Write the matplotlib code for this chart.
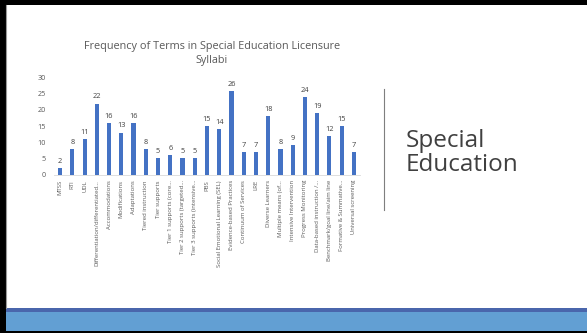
import matplotlib
matplotlib.use("Agg")
import matplotlib.pyplot as plt
from matplotlib.patches import Rectangle
from matplotlib.lines import Line2D

# term counts
terms = [
    "MTSS", "RTI", "UDL", "Differentiation/differentiated\u2026",
    "Accommodations", "Modifications", "Adaptations", "Tiered instruction",
    "Tier supports", "Tier 1 supports (core\u2026", "Tier 2 supports (targeted\u2026",
    "Tier 3 supports (intensive\u2026", "PBS", "Social Emotional Learning (SEL)",
    "Evidence-based Practices", "Continuum of Services", "LRE",
    "Diverse Learners", "Multiple means (of\u2026", "Intensive Intervention",
    "Progress Monitoring", "Data-based instruction /\u2026",
    "Benchmark/goal line/aim line", "Formative & Summative\u2026",
    "Universal screening",
]
counts = [2, 8, 11, 22, 16, 13, 16, 8, 5, 6, 5, 5, 15, 14, 26, 7, 7, 18, 8, 9,
          24, 19, 12, 15, 7]
y_ticks = [0, 5, 10, 15, 20, 25, 30]

W, H = 587, 333
fig = plt.figure(figsize=(W / 100, H / 100), dpi=100)
fig.patch.set_facecolor("white")

def px(x, y, w, h):
    # pixel box (top-left origin) -> figure fraction
    return (x / W, 1 - (y + h) / H, w / W, h / H)

# slide frame and footer band
for (x, y, w, h, c) in [(0, 0, W, 4.5, "black"), (0, 0, 5.5, H, "black"),
                        (0, 331, W, 2, "black"),
                        (5.5, 307.7, W, 4, "#4a66ac"),
                        (5.5, 311.7, W, 19.3, "#629fd3")]:
    fx, fy, fw, fh = px(x, y, w, h)
    fig.patches.append(Rectangle((fx, fy), fw, fh, transform=fig.transFigure,
                                 facecolor=c, edgecolor="none", zorder=0))
fig.lines.append(Line2D([5.8 / W, 5.8 / W], [1 - 4.5 / H, 1 - 307.7 / H],
                        transform=fig.transFigure, color="#9a9a9a", lw=0.8))

font = "Open Sans"
ax = fig.add_axes([54 / W, 1 - 174.5 / H, 306 / W, (174.5 - 77.7) / H])
x = list(range(len(terms)))
bars = ax.bar(x, counts, width=0.34, color="#4472c4")
ax.bar_label(bars, labels=[str(c) for c in counts], padding=2.2, fontsize=5.3,
             color="#404040", family=font)
ax.set_xlim(-0.5, len(terms) - 0.5)
ax.set_ylim(0, 30)
ax.set_yticks(y_ticks)
ax.set_yticklabels([str(t) for t in y_ticks], fontsize=5.2, color="#595959",
                   family=font)
ax.set_xticks(x)
ax.set_xticklabels(terms, rotation=90, fontsize=4.3, color="#595959",
                   family=font, va="top", ha="center")
ax.tick_params(axis="both", length=0, pad=4)
ax.tick_params(axis="y", pad=6)
for s in ["top", "right", "left"]:
    ax.spines[s].set_visible(False)
ax.spines["bottom"].set_color("#d9d9d9")
ax.spines["bottom"].set_linewidth(0.6)
ax.patch.set_alpha(0)

fig.text(212 / W, 1 - 53.5 / H, "Frequency of Terms in Special Education Licensure\nSyllabi",
         ha="center", va="center", fontsize=7.8, color="#595959", family=font,
         linespacing=1.45)

# divider and side title
fig.lines.append(Line2D([384.3 / W, 384.3 / W], [1 - 89 / H, 1 - 210 / H],
                        transform=fig.transFigure, color="#7f7f7f", lw=0.8))
fig.text(406 / W, 1 - 153 / H, "Special\nEducation", ha="left", va="center",
         fontsize=17.5, color="#404040", family=font, linespacing=1.0)

fig.savefig("out.png", dpi=100, facecolor="white")
